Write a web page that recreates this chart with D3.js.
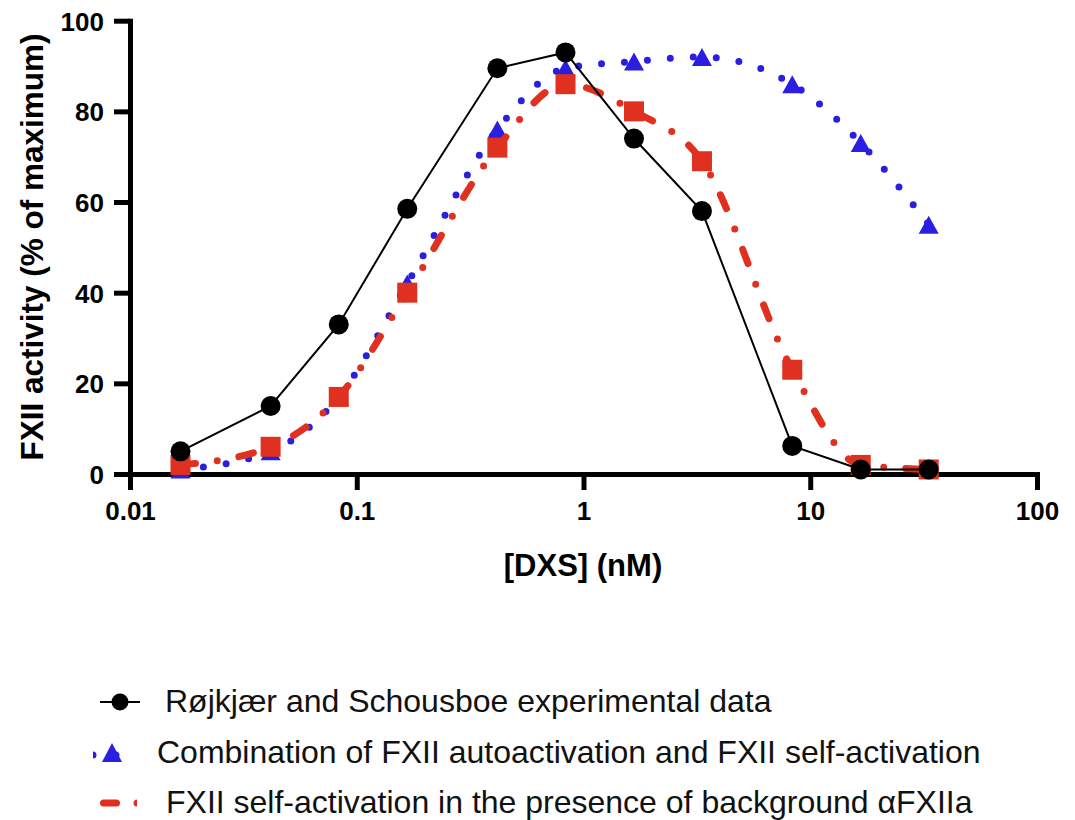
<!DOCTYPE html>
<html>
<head>
<meta charset="utf-8">
<script src="https://cdn.jsdelivr.net/npm/d3@7"></script>
<style>
  html, body { margin: 0; padding: 0; background: #fff; }
  svg { display: block; font-family: "Liberation Sans", Arial, Helvetica, sans-serif; }
</style>
</head>
<body>
<svg id="chart" width="1075" height="820"></svg>
<script>
// ---- data ----
const dxs = [0.0167, 0.0417, 0.0833, 0.167, 0.417, 0.833, 1.67, 3.33, 8.33, 16.7, 33.3];
const experimental = [5, 15, 33, 58.5, 89.5, 93, 74, 58, 6.2, 1, 1];
const combination = [1, 5, 17, 42, 76, 89.5, 91, 92, 86, 73, 55];
const selfActivation = [2, 6, 17, 40, 72, 86, 80, 69, 23, 2, 1];
const xTickValues = [0.01, 0.1, 1, 10, 100];
const xTickLabels = ["0.01", "0.1", "1", "10", "100"];
const yTickValues = [0, 20, 40, 60, 80, 100];
const seriesNames = [
  "Røjkjær and Schousboe experimental data",
  "Combination of FXII autoactivation and FXII self-activation",
  "FXII self-activation in the presence of background αFXIIa"
];
const xTitle = "[DXS] (nM)";
const yTitle = "FXII activity (% of maximum)";

// ---- styles ----
const BLUE = "#2a1fe0";
const RED = "#e0301f";
const BLACK = "#000";

const svg = d3.select("#chart");
const x = d3.scaleLog().domain([0.01, 100]).range([130, 1037]);
const y = d3.scaleLinear().domain([0, 100]).range([474, 20.7]);

// axes
const xAxis = d3.axisBottom(x).tickValues(xTickValues)
  .tickFormat((d, i) => xTickLabels[i]).tickSize(16).tickSizeOuter(0).tickPadding(12);
const yAxis = d3.axisLeft(y).tickValues(yTickValues)
  .tickFormat(d3.format("d")).tickSize(16).tickSizeOuter(0).tickPadding(10);

const gx = svg.append("g").attr("transform", "translate(0,474)").call(xAxis);
const gy = svg.append("g").attr("transform", "translate(130,0)").call(yAxis);
[gx, gy].forEach(g => {
  g.select(".domain").attr("stroke", BLACK).attr("stroke-width", 5).attr("stroke-linecap", "square");
  g.selectAll(".tick line").attr("stroke", BLACK).attr("stroke-width", 5);
  g.selectAll(".tick text").attr("fill", BLACK).attr("font-size", 26).attr("font-weight", "bold")
    .attr("font-family", "Liberation Sans, Arial, sans-serif");
});
gy.selectAll(".tick text").attr("dy", "0.36em");

// axis titles
svg.append("text").attr("x", 583).attr("y", 576).attr("text-anchor", "middle")
  .attr("font-size", 31).attr("font-weight", "bold").text(xTitle);
svg.append("text").attr("transform", "translate(43,247) rotate(-90)").attr("text-anchor", "middle")
  .attr("font-size", 31.5).attr("font-weight", "bold").text(yTitle);

const pts = vals => dxs.map((d, i) => [x(d), y(vals[i])]);
const triPath = (w, h) => `M0,${-h/2}L${w/2},${h/2}L${-w/2},${h/2}Z`;

// blue: dotted smooth line + triangles
const smooth = d3.line().curve(d3.curveMonotoneX);
svg.append("path").attr("d", smooth(pts(combination))).attr("fill", "none")
  .attr("stroke", BLUE).attr("stroke-width", 7).attr("stroke-linecap", "round")
  .attr("stroke-dasharray", "0 23");
svg.append("g").selectAll("path").data(pts(combination)).join("path")
  .attr("transform", d => `translate(${d[0]},${d[1]})`).attr("d", triPath(20, 18)).attr("fill", BLUE);

// red: dash-dot smooth line + squares
svg.append("path").attr("d", smooth(pts(selfActivation))).attr("fill", "none")
  .attr("stroke", RED).attr("stroke-width", 7).attr("stroke-linecap", "round")
  .attr("stroke-dasharray", "15 22 0 22");
svg.append("g").selectAll("rect").data(pts(selfActivation)).join("rect")
  .attr("x", d => d[0] - 10).attr("y", d => d[1] - 10).attr("width", 20).attr("height", 20).attr("fill", RED);

// black: straight line + circles
svg.append("path").attr("d", d3.line()(pts(experimental))).attr("fill", "none")
  .attr("stroke", BLACK).attr("stroke-width", 2);
svg.append("g").selectAll("circle").data(pts(experimental)).join("circle")
  .attr("cx", d => d[0]).attr("cy", d => d[1]).attr("r", 10).attr("fill", BLACK);

// legend
const defs = svg.append("defs");
defs.append("clipPath").attr("id", "clipBlue").append("rect").attr("x", 93).attr("y", 740).attr("width", 40).attr("height", 30);
defs.append("clipPath").attr("id", "clipRed").append("rect").attr("x", 90).attr("y", 790).attr("width", 47).attr("height", 30);

const lg = svg.append("g");
// row 1
lg.append("line").attr("x1", 100).attr("x2", 140).attr("y1", 702).attr("y2", 702).attr("stroke", BLACK).attr("stroke-width", 2);
lg.append("circle").attr("cx", 120).attr("cy", 702).attr("r", 8.5).attr("fill", BLACK);
lg.append("text").attr("x", 165).attr("y", 712).attr("font-size", 32).attr("fill", "#111").text(seriesNames[0]);
// row 2
lg.append("line").attr("x1", 93).attr("x2", 130).attr("y1", 755).attr("y2", 755).attr("stroke", BLUE)
  .attr("stroke-width", 7).attr("stroke-linecap", "round").attr("stroke-dasharray", "0 23").attr("clip-path", "url(#clipBlue)");
lg.append("path").attr("transform", "translate(112,752.5)").attr("d", triPath(20, 19)).attr("fill", BLUE);
lg.append("text").attr("x", 157).attr("y", 763).attr("font-size", 32).attr("fill", "#111").text(seriesNames[1]);
// row 3
lg.append("line").attr("x1", 103.5).attr("x2", 140).attr("y1", 803).attr("y2", 803).attr("stroke", RED)
  .attr("stroke-width", 7).attr("stroke-linecap", "round").attr("stroke-dasharray", "13 20.5 0 20.5").attr("clip-path", "url(#clipRed)");
lg.append("text").attr("x", 166).attr("y", 813).attr("font-size", 32).attr("fill", "#111").text(seriesNames[2]);
</script>
</body>
</html>
